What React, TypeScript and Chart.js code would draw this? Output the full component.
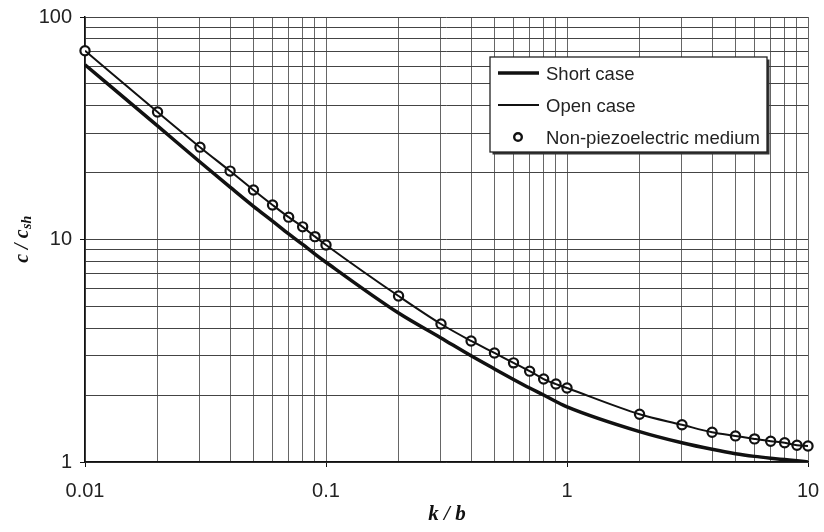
import React, { useEffect, useRef } from "react";
import { Chart, registerables } from "chart.js";

Chart.register(...registerables);

const kOverB = [
  0.01, 0.02, 0.03, 0.04, 0.05, 0.06, 0.07, 0.08, 0.09,
  0.1, 0.2, 0.3, 0.4, 0.5, 0.6, 0.7, 0.8, 0.9,
  1, 2, 3, 4, 5, 6, 7, 8, 9, 10,
];
const shortCase = [
  61, 32.4, 22.3, 17.2, 14.1, 12.1, 10.6, 9.5, 8.6,
  7.9, 4.67, 3.61, 3.0, 2.62, 2.35, 2.15, 2.0, 1.87,
  1.77, 1.37, 1.22, 1.14, 1.09, 1.06, 1.04, 1.025, 1.012, 1.0,
];
const openCase = [
  70.5, 37.4, 26.0, 20.3, 16.7, 14.3, 12.6, 11.4, 10.3,
  9.45, 5.57, 4.17, 3.5, 3.09, 2.79, 2.56, 2.36, 2.24,
  2.15, 1.64, 1.47, 1.36, 1.31, 1.27, 1.24, 1.22, 1.19, 1.18,
];
const nonPiezo = openCase;

const xTickValues = kOverB;
const xMajorTicks = [0.01, 0.1, 1, 10];
const yTickValues = [1, 2, 3, 4, 5, 6, 7, 8, 9, 10, 20, 30, 40, 50, 60, 70, 80, 90, 100];
const yMajorTicks = [1, 10, 100];
const seriesLabels = ["Short case", "Open case", "Non-piezoelectric medium"];

const isMajor = (v: number, list: number[]) => list.some((m) => Math.abs(m - v) / m < 1e-6);
const fmt = (v: number) => String(Number(v.toPrecision(6)));

const legendPlugin = {
  id: "boxLegend",
  afterDraw(chart: any) {
    const ctx = chart.ctx;
    const x0 = 490, y0 = 57, w = 277, h = 95;
    ctx.save();
    ctx.fillStyle = "#333";
    ctx.fillRect(x0 + 2.5, y0 + 2.5, w, h);
    ctx.fillStyle = "#fff";
    ctx.fillRect(x0, y0, w, h);
    ctx.strokeStyle = "#222";
    ctx.lineWidth = 1.3;
    ctx.strokeRect(x0, y0, w, h);
    const rows = [73, 105, 137];
    ctx.font = "18.5px 'Liberation Sans', Arial, sans-serif";
    ctx.textBaseline = "middle";
    chart.data.datasets.forEach((ds: any, i: number) => {
      const y = rows[i];
      if (ds.showLine !== false) {
        ctx.strokeStyle = ds.borderColor;
        ctx.lineWidth = ds.borderWidth;
        ctx.beginPath();
        ctx.moveTo(498, y);
        ctx.lineTo(539, y);
        ctx.stroke();
      } else {
        ctx.beginPath();
        ctx.arc(518, y, 3.8, 0, Math.PI * 2);
        ctx.fillStyle = "#fff";
        ctx.fill();
        ctx.lineWidth = 2.4;
        ctx.strokeStyle = "#111";
        ctx.stroke();
      }
      ctx.fillStyle = "#222";
      ctx.fillText(ds.label, 546, y + 1.5);
    });
    ctx.restore();
  },
};

const titlePlugin = {
  id: "axisTitles",
  afterDraw(chart: any) {
    const ctx = chart.ctx;
    const area = chart.chartArea;
    ctx.save();
    ctx.fillStyle = "#111";
    ctx.font = "italic bold 21px 'Liberation Serif', 'Times New Roman', serif";
    ctx.textAlign = "center";
    ctx.textBaseline = "middle";
    ctx.fillText("k / b", (area.left + area.right) / 2 + 0.5, 515);

    // y title with subscript
    ctx.translate(22, (area.top + area.bottom) / 2);
    ctx.rotate(-Math.PI / 2);
    ctx.textAlign = "left";
    ctx.textBaseline = "alphabetic";
    const main = "c / c";
    const sub = "sh";
    const mainFont = "italic bold 20px 'Liberation Serif', 'Times New Roman', serif";
    const subFont = "italic bold 14px 'Liberation Serif', 'Times New Roman', serif";
    ctx.font = mainFont;
    const wm = ctx.measureText(main).width;
    ctx.font = subFont;
    const ws = ctx.measureText(sub).width;
    const start = -(wm + ws) / 2;
    ctx.font = mainFont;
    ctx.fillText(main, start, 6);
    ctx.font = subFont;
    ctx.fillText(sub, start + wm + 0.5, 9);
    ctx.restore();
  },
};

export default function App() {
  const ref = useRef<HTMLCanvasElement | null>(null);

  useEffect(() => {
    if (!ref.current) return;
    const tickFont = { family: "'Liberation Sans', Arial, sans-serif", size: 20 };
    const chart = new Chart(ref.current, {
      type: "line",
      data: {
        datasets: [
          {
            label: seriesLabels[0],
            data: kOverB.map((x, i) => ({ x, y: shortCase[i] })),
            borderColor: "#111",
            borderWidth: 3.5,
            pointRadius: 0,
            fill: false,
            cubicInterpolationMode: "monotone",
          },
          {
            label: seriesLabels[1],
            data: kOverB.map((x, i) => ({ x, y: openCase[i] })),
            borderColor: "#111",
            borderWidth: 2,
            pointRadius: 0,
            fill: false,
            cubicInterpolationMode: "monotone",
          },
          {
            label: seriesLabels[2],
            data: kOverB.map((x, i) => ({ x, y: nonPiezo[i] })),
            showLine: false,
            borderColor: "#111",
            backgroundColor: "#fff",
            pointBackgroundColor: "#fff",
            pointBorderColor: "#111",
            pointBorderWidth: 2.2,
            pointRadius: 4.6,
            clip: false,
          },
        ],
      } as any,
      options: {
        animation: false,
        responsive: false,
        maintainAspectRatio: false,
        layout: { padding: { top: 17, right: 16, left: 0, bottom: 0 } },
        plugins: {
          legend: { display: false },
          tooltip: { enabled: false },
        },
        scales: {
          x: {
            type: "logarithmic",
            min: 0.01,
            max: 10,
            afterBuildTicks: (scale: any) => {
              scale.ticks = xTickValues.map((v) => ({ value: v, major: isMajor(v, xMajorTicks) }));
            },
            afterFit: (scale: any) => {
              scale.height = 70;
              scale.paddingLeft = 0;
              scale.paddingRight = 0;
            },
            ticks: {
              autoSkip: false,
              maxRotation: 0,
              padding: 12,
              color: "#222",
              font: tickFont,
              callback: (v: any) => (isMajor(Number(v), xMajorTicks) ? fmt(Number(v)) : ""),
            },
            grid: {
              color: "#666",
              lineWidth: 1,
              tickLength: 5,
              tickColor: (c: any) => (c.tick && isMajor(c.tick.value, xMajorTicks) ? "#111" : "rgba(0,0,0,0)"),
            },
            border: { color: "#111", width: 1.5 },
          },
          y: {
            type: "logarithmic",
            min: 1,
            max: 100,
            afterBuildTicks: (scale: any) => {
              scale.ticks = yTickValues.map((v) => ({ value: v, major: isMajor(v, yMajorTicks) }));
            },
            afterFit: (scale: any) => {
              scale.width = 85;
              scale.paddingTop = 0;
              scale.paddingBottom = 0;
            },
            ticks: {
              autoSkip: false,
              padding: 8,
              color: "#222",
              font: tickFont,
              callback: (v: any) => (isMajor(Number(v), yMajorTicks) ? fmt(Number(v)) : ""),
            },
            grid: {
              color: "#444",
              lineWidth: 1,
              tickLength: 5,
              tickColor: (c: any) => (c.tick && isMajor(c.tick.value, yMajorTicks) ? "#111" : "rgba(0,0,0,0)"),
            },
            border: { color: "#111", width: 1.5 },
          },
        },
      },
      plugins: [legendPlugin, titlePlugin],
    } as any);
    return () => chart.destroy();
  }, []);

  return (
    <div style={{ position: "absolute", left: 0, top: 0, width: 824, height: 532, background: "#fff" }}>
      <canvas ref={ref} width={824} height={532} style={{ display: "block", width: 824, height: 532 }} />
    </div>
  );
}
